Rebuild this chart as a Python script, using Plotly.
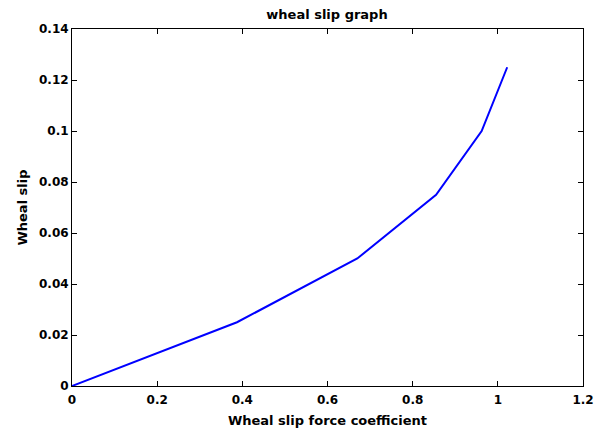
import plotly.graph_objects as go

force_coeff = [0, 0.3875, 0.67, 0.855, 0.962, 1.022]
wheal_slip = [0, 0.025, 0.05, 0.075, 0.1, 0.125]
x_ticks = [0, 0.2, 0.4, 0.6, 0.8, 1, 1.2]
y_ticks = [0, 0.02, 0.04, 0.06, 0.08, 0.1, 0.12, 0.14]

TICK_FONT = dict(family="DejaVu Sans", size=12, color="black", weight="bold")
LABEL_FONT = dict(family="DejaVu Sans", size=13, color="black", weight="bold")

# The page body adds an 8px margin, so the figure is sized/offset to compensate.
W, H = 595, 423

fig = go.Figure()
fig.add_trace(go.Scatter(
    x=force_coeff, y=wheal_slip, mode="lines",
    line=dict(color="#0000ff", width=2),
))

axis_common = dict(
    showgrid=False, zeroline=False, showline=True, linecolor="black", linewidth=1,
    mirror="ticks", ticks="inside", ticklen=5, tickcolor="black", tickwidth=1,
    tickfont=TICK_FONT, automargin=False,
)

fig.update_layout(
    width=W, height=H,
    margin=dict(l=64, r=20, t=21, b=45, autoexpand=False),
    paper_bgcolor="white", plot_bgcolor="white",
    showlegend=False,
    title=dict(text="wheal slip graph", font=LABEL_FONT, x=319 / W, xanchor="center",
               y=1 - 6 / H, yanchor="middle", automargin=False),
    xaxis=dict(range=[0, 1.2], tickvals=x_ticks,
               ticktext=[f"{v:g}" for v in x_ticks], ticklabelstandoff=3,
               title=dict(text="Wheal slip force coefficient", font=LABEL_FONT, standoff=9),
               **axis_common),
    yaxis=dict(range=[0, 0.14], tickvals=y_ticks,
               ticktext=[f"{v:g}" for v in y_ticks],
               title=dict(text="Wheal slip", font=LABEL_FONT, standoff=8),
               **axis_common),
)

fig.write_html("out.html")
